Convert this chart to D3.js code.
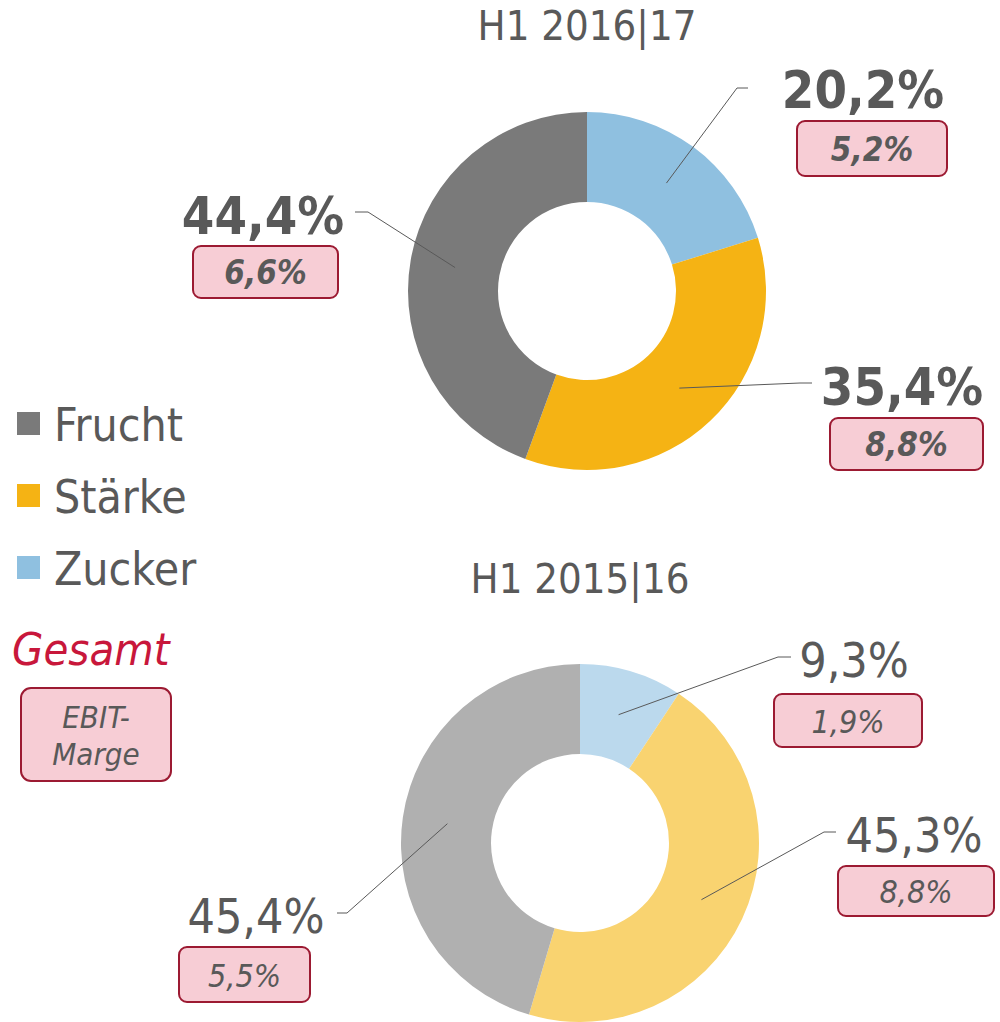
<!DOCTYPE html>
<html>
<head>
<meta charset="utf-8">
<script src="https://cdn.jsdelivr.net/npm/d3@7"></script>
<style>
  body { margin: 0; background: #fff; }
  svg text { font-family: "DejaVu Sans Condensed", "DejaVu Sans", Verdana, sans-serif; font-stretch: condensed; }
</style>
</head>
<body>
<svg id="chart" width="1000" height="1022"></svg>
<script>
// segments, clockwise from 12 o'clock
const segments = ["Zucker", "Stärke", "Frucht"]
const legendOrder = ["Frucht", "Stärke", "Zucker"]

const periods = ["H1 2016|17", "H1 2015|16"]
const shares2017 = [20.2, 35.4, 44.4]
const shares2016 = [9.3, 45.3, 45.4]
const margins2017 = ["5,2%", "8,8%", "6,6%"]
const margins2016 = ["1,9%", "8,8%", "5,5%"]

const colours2017 = { "Zucker": "#8fc0e0", "Stärke": "#f5b314", "Frucht": "#7a7a7a" }
const colours2016 = { "Zucker": "#bbd9ed", "Stärke": "#f9d370", "Frucht": "#b0b0b0" }

const textCol = "#595959"
const boxFill = "#f7cdd5"
const boxStroke = "#9c1a32"

const fmt = v => v.toFixed(1).replace(".", ",") + "%"

let svg = d3.select("#chart")

// label placement per donut: text centre/baseline, box, leader elbow
const charts = [
  {
    title: periods[0], cx: 587, cy: 291, titleY: 40,
    shares: shares2017, margins: margins2017, colours: colours2017, bold: true,
    labels: [
      { tx: 863, ty: 108, box: [797, 121, 150, 55], elbow: [[737, 88], [748, 88]] },
      { tx: 902, ty: 405, box: [830, 418, 153, 52], elbow: [[800, 383], [812, 383]] },
      { tx: 263, ty: 234, box: [193, 246, 145, 52], elbow: [[368, 212], [355, 212]] }
    ]
  },
  {
    title: periods[1], cx: 580, cy: 843, titleY: 593,
    shares: shares2016, margins: margins2016, colours: colours2016, bold: false,
    labels: [
      { tx: 854, ty: 677, box: [774, 694, 148, 53], elbow: [[778, 657], [791, 657]] },
      { tx: 914, ty: 852, box: [838, 866, 156, 50], elbow: [[824, 832], [836, 832]] },
      { tx: 256, ty: 933, box: [179, 947, 131, 55], elbow: [[347, 913], [337, 913]] }
    ]
  }
]

let pie = d3.pie().sort(null).value(d => d.value)
let arc = d3.arc().innerRadius(89).outerRadius(179)

charts.forEach(c => {
  let data = segments.map((s, i) => ({ name: s, value: c.shares[i], margin: c.margins[i], lab: c.labels[i] }))
  let arcs = pie(data)

  svg.append("text")
    .attr("x", c.cx).attr("y", c.titleY)
    .attr("text-anchor", "middle")
    .attr("font-size", 41.5)
    .attr("fill", textCol)
    .text(c.title)

  let g = svg.append("g").attr("transform", `translate(${c.cx},${c.cy})`)
  g.selectAll("path")
    .data(arcs)
    .enter().append("path")
    .attr("d", arc)
    .attr("fill", d => c.colours[d.data.name])

  // leader lines from the slice centroid to the label elbow
  arcs.forEach(d => {
    let [x0, y0] = arc.centroid(d)
    let pts = [[c.cx + x0, c.cy + y0]].concat(d.data.lab.elbow)
    svg.append("path")
      .attr("d", d3.line()(pts))
      .attr("fill", "none")
      .attr("stroke", textCol)
      .attr("stroke-width", 1)
  })

  let lab = svg.selectAll(null)
    .data(arcs)
    .enter().append("g")

  lab.append("text")
    .attr("x", d => d.data.lab.tx)
    .attr("y", d => d.data.lab.ty)
    .attr("text-anchor", "middle")
    .attr("font-size", c.bold ? 52 : 48)
    .attr("font-weight", c.bold ? "bold" : "normal")
    .attr("fill", textCol)
    .text(d => fmt(d.data.value))

  lab.append("rect")
    .attr("x", d => d.data.lab.box[0])
    .attr("y", d => d.data.lab.box[1])
    .attr("width", d => d.data.lab.box[2])
    .attr("height", d => d.data.lab.box[3])
    .attr("rx", 8)
    .attr("fill", boxFill)
    .attr("stroke", boxStroke)
    .attr("stroke-width", 2)

  lab.append("text")
    .attr("x", d => d.data.lab.box[0] + d.data.lab.box[2] / 2)
    .attr("y", d => d.data.lab.box[1] + d.data.lab.box[3] / 2 + 12)
    .attr("text-anchor", "middle")
    .attr("font-size", c.bold ? 33 : 32)
    .attr("font-style", "italic")
    .attr("font-weight", c.bold ? "bold" : "normal")
    .attr("fill", textCol)
    .text(d => d.data.margin)
})

// legend
let leg = svg.selectAll(".legend")
  .data(legendOrder)
  .enter().append("g")
  .attr("class", "legend")
  .attr("transform", (d, i) => `translate(0,${i * 72})`)

leg.append("rect")
  .attr("x", 17).attr("y", 412)
  .attr("width", 23).attr("height", 23)
  .attr("fill", d => colours2017[d])

leg.append("text")
  .attr("x", 54).attr("y", 441)
  .attr("font-size", 46)
  .attr("fill", textCol)
  .text(d => d)

svg.append("text")
  .attr("x", 12).attr("y", 665)
  .attr("font-size", 45)
  .attr("font-style", "italic")
  .attr("fill", "#c8173b")
  .text("Gesamt")

svg.append("rect")
  .attr("x", 21).attr("y", 688)
  .attr("width", 150).attr("height", 93)
  .attr("rx", 10)
  .attr("fill", boxFill)
  .attr("stroke", boxStroke)
  .attr("stroke-width", 2)

svg.append("text")
  .attr("x", 96).attr("y", 728)
  .attr("text-anchor", "middle")
  .attr("font-size", 31)
  .attr("font-style", "italic")
  .attr("fill", textCol)
  .text("EBIT-")

svg.append("text")
  .attr("x", 96).attr("y", 765)
  .attr("text-anchor", "middle")
  .attr("font-size", 31)
  .attr("font-style", "italic")
  .attr("fill", textCol)
  .text("Marge")
</script>
</body>
</html>
